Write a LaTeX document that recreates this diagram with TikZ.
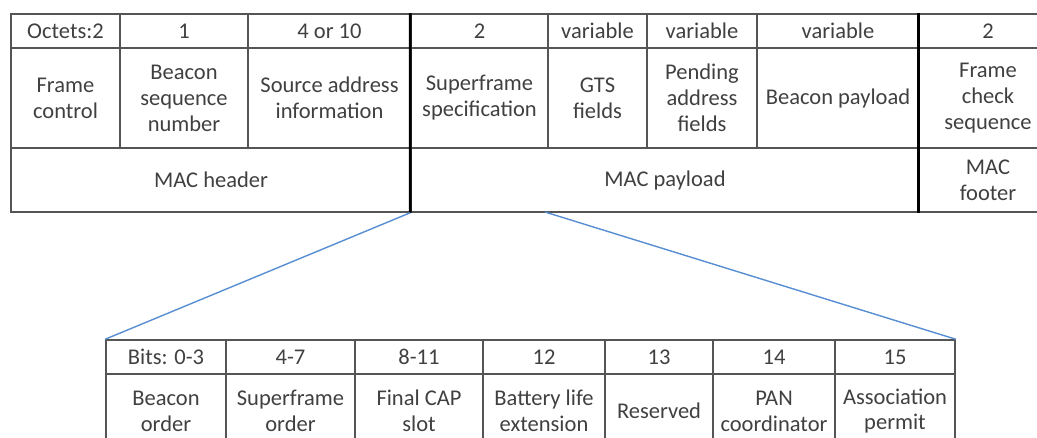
\documentclass[tikz,border=0pt]{standalone}
\usepackage{fontspec}
\setmainfont{Carlito}
\usepackage{tikz}
\usetikzlibrary{positioning}
\definecolor{zoomblue}{RGB}{88,142,210}
\definecolor{rulegray}{RGB}{85,85,85}

\begin{document}
\begin{tikzpicture}[
  x=0.025cm, y=-0.025cm,
  cell/.style={draw=rulegray, line width=1.1pt, inner sep=1pt, align=center,
    text=black!75, font=\fontsize{16}{18.4}\selectfont},
  hrow/.style={cell, minimum height=0.85cm},
  frow/.style={cell, minimum height=2.5cm},
  prow/.style={cell, minimum height=1.6cm},
  brow/.style={cell, minimum height=1.85cm},
  split/.style={line width=2pt, black},
  zoomline/.style={zoomblue, line width=1pt}
]
  % page frame (reference is cropped at right and bottom)
  \clip (0,0) rectangle (1037,437);

  % Beacon frame: octet row
  \node[hrow, minimum width=2.725cm] (oct1) at (65.5,31)  {Octets:2};
  \node[hrow, minimum width=3.2cm]   (oct2) at (184,31)   {1};
  \node[hrow, minimum width=4.075cm] (oct3) at (329.5,31) {4 or 10};
  \node[hrow, minimum width=3.425cm] (oct4) at (479.5,31) {2};
  \node[hrow, minimum width=2.475cm] (oct5) at (597.5,31) {variable};
  \node[hrow, minimum width=2.75cm]  (oct6) at (702,31)   {variable};
  \node[hrow, minimum width=4.05cm]  (oct7) at (838,31)   {variable};
  \node[hrow, minimum width=3.45cm]  (oct8) at (988,31)   {2};

  % Beacon frame: fields
  \node[frow, minimum width=2.725cm] (fc)   at (65.5,98)  {Frame\\control};
  \node[frow, minimum width=3.2cm]   (bsn)  at (184,98)   {Beacon\\sequence\\number};
  \node[frow, minimum width=4.075cm] (src)  at (329.5,98) {Source address\\information};
  \node[frow, minimum width=3.425cm] (sfs)  at (479.5,98) {Superframe\\specification};
  \node[frow, minimum width=2.475cm] (gts)  at (597.5,98) {GTS\\fields};
  \node[frow, minimum width=2.75cm]  (pend) at (702,98)   {Pending\\address\\fields};
  \node[frow, minimum width=4.05cm]  (bpl)  at (838,98)   {Beacon payload};
  \node[frow, minimum width=3.45cm]  (fcs)  at (988,98)   {Frame\\check\\sequence};

  % Beacon frame: parts
  \node[prow, minimum width=10cm]   (hdr) at (211,180) {MAC header};
  \node[prow, minimum width=12.7cm] (pld) at (665,180) {MAC payload};
  \node[prow, minimum width=3.45cm] (ftr) at (988,180) {MAC\\footer};

  \draw[split] (oct4.north west) -- (pld.south west);
  \draw[split] (oct8.north west) -- (ftr.south west);

  % Superframe specification: bit row
  \node[hrow, minimum width=3.0cm]   (bit1) at (166,357)   {Bits: 0-3};
  \node[hrow, minimum width=3.225cm] (bit2) at (290.5,357) {4-7};
  \node[hrow, minimum width=3.2cm]   (bit3) at (419,357)   {8-11};
  \node[hrow, minimum width=3.05cm]  (bit4) at (544,357)   {12};
  \node[hrow, minimum width=2.7cm]   (bit5) at (659,357)   {13};
  \node[hrow, minimum width=3.05cm]  (bit6) at (774,357)   {14};
  \node[hrow, minimum width=3.0cm]   (bit7) at (895,357)   {15};

  % Superframe specification: subfields
  \node[brow, minimum width=3.0cm]   (bo)    at (166,411)   {Beacon\\order};
  \node[brow, minimum width=3.225cm] (so)    at (290.5,411) {Superframe\\order};
  \node[brow, minimum width=3.2cm]   (cap)   at (419,411)   {Final CAP\\slot};
  \node[brow, minimum width=3.05cm]  (ble)   at (544,411)   {Battery life\\extension};
  \node[brow, minimum width=2.7cm]   (res)   at (659,411)   {Reserved};
  \node[brow, minimum width=3.05cm]  (panc)  at (774,411)   {PAN\\coordinator};
  \node[brow, minimum width=3.0cm]   (assoc) at (895,411)   {Association\\permit};

  % zoom lines
  \coordinate (zoomR) at (545,212);
  \draw[zoomline] (pld.south west) -- (bit1.north west);
  \draw[zoomline] (zoomR) -- (bit7.north east);
\end{tikzpicture}
\end{document}
